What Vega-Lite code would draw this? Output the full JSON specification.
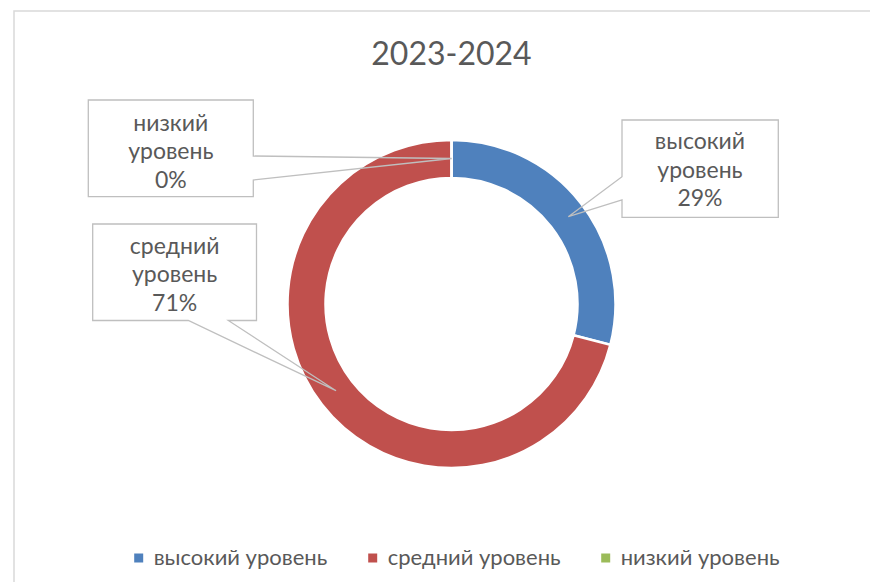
{
  "$schema": "https://vega.github.io/schema/vega-lite/v6.json",
  "width": 856,
  "height": 571,
  "autosize": {"type": "none"},
  "padding": {"left": 14, "top": 11, "right": 0, "bottom": 0},
  "background": "white",
  "view": {"stroke": "#d9d9d9", "strokeWidth": 1.5, "strokeDash": [856, 1427, 571]},
  "config": {"font": "Lato"},
  "title": {
    "text": "2023-2024",
    "font": "Lato",
    "fontSize": 32,
    "fontWeight": "normal",
    "color": "#595959",
    "anchor": "middle",
    "baseline": "alphabetic",
    "offset": -95,
    "dx": 9.5
  },
  "data": {
    "values": [
      {"level": "высокий уровень", "value": 29, "rank": 1},
      {"level": "средний уровень", "value": 71, "rank": 2},
      {"level": "низкий уровень", "value": 0, "rank": 3}
    ]
  },
  "transform": [{"calculate": "datum.level + ' ' + datum.value + '%'", "as": "lbl"}],
  "layer": [
    {
      "mark": {"type": "arc", "innerRadius": 126, "outerRadius": 164, "stroke": "white", "strokeWidth": 2.5, "xOffset": 9.5, "yOffset": 7.5},
      "encoding": {
        "theta": {"field": "value", "type": "quantitative", "stack": true},
        "order": {"field": "rank", "type": "quantitative"},
        "color": {
          "field": "level",
          "type": "nominal",
          "scale": {"domain": ["высокий уровень", "средний уровень", "низкий уровень"], "range": ["#4F81BD", "#C0504D", "#9BBB59"]},
          "legend": {
            "orient": "none",
            "legendX": 113.7,
            "legendY": 536,
            "direction": "horizontal",
            "symbolType": "square",
            "symbolSize": 81,
            "symbolStrokeWidth": 0,
            "labelFont": "Lato",
            "labelFontSize": 22,
            "labelColor": "#595959",
            "labelOffset": 4,
            "labelLimit": 400,
            "columnPadding": 34,
            "padding": 0,
            "title": null
          }
        }
      }
    },
    {
      "mark": {"type": "point", "filled": false, "color": "#bfbfbf", "stroke": "#bfbfbf", "strokeWidth": 1.3, "size": 4, "opacity": 1},
      "encoding": {
        "shape": {
          "field": "rank",
          "type": "nominal",
          "scale": {
            "domain": [1, 2, 3],
            "range": [
              "M180,-176.5H336.3V-79.2H180V-96.5L126.3,-79.8L180,-119.8Z",
              "M-349.3,-72.5H-185.5V24H-213.7L-106,94.2L-253.7,24H-349.3Z",
              "M-353.7,-196.5H-188.7V-140.5L9.7,-138L-188.7,-116.5V-99.8H-353.7Z"
            ]
          },
          "legend": null
        }
      }
    },
    {
      "mark": {"type": "text", "radius": 145, "dx": 143.4, "dy": -65.6, "font": "Lato", "fontSize": 23, "lineBreak": " ", "lineHeight": 28.5, "color": "#595959", "align": "center", "baseline": "middle"},
      "encoding": {
        "theta": {"field": "value", "type": "quantitative", "stack": true},
        "order": {"field": "rank", "type": "quantitative"},
        "text": {"condition": {"test": "datum.level === 'высокий уровень'", "field": "lbl"}, "value": ""}
      }
    },
    {
      "mark": {"type": "text", "radius": 145, "dx": -152.8, "dy": -138.4, "font": "Lato", "fontSize": 23, "lineBreak": " ", "lineHeight": 28.5, "color": "#595959", "align": "center", "baseline": "middle"},
      "encoding": {
        "theta": {"field": "value", "type": "quantitative", "stack": true},
        "order": {"field": "rank", "type": "quantitative"},
        "text": {"condition": {"test": "datum.level === 'средний уровень'", "field": "lbl"}, "value": ""}
      }
    },
    {
      "mark": {"type": "text", "radius": 145, "dx": -271.2, "dy": -28, "font": "Lato", "fontSize": 23, "lineBreak": " ", "lineHeight": 28.5, "color": "#595959", "align": "center", "baseline": "middle"},
      "encoding": {
        "theta": {"field": "value", "type": "quantitative", "stack": true},
        "order": {"field": "rank", "type": "quantitative"},
        "text": {"condition": {"test": "datum.level === 'низкий уровень'", "field": "lbl"}, "value": ""}
      }
    }
  ]
}
